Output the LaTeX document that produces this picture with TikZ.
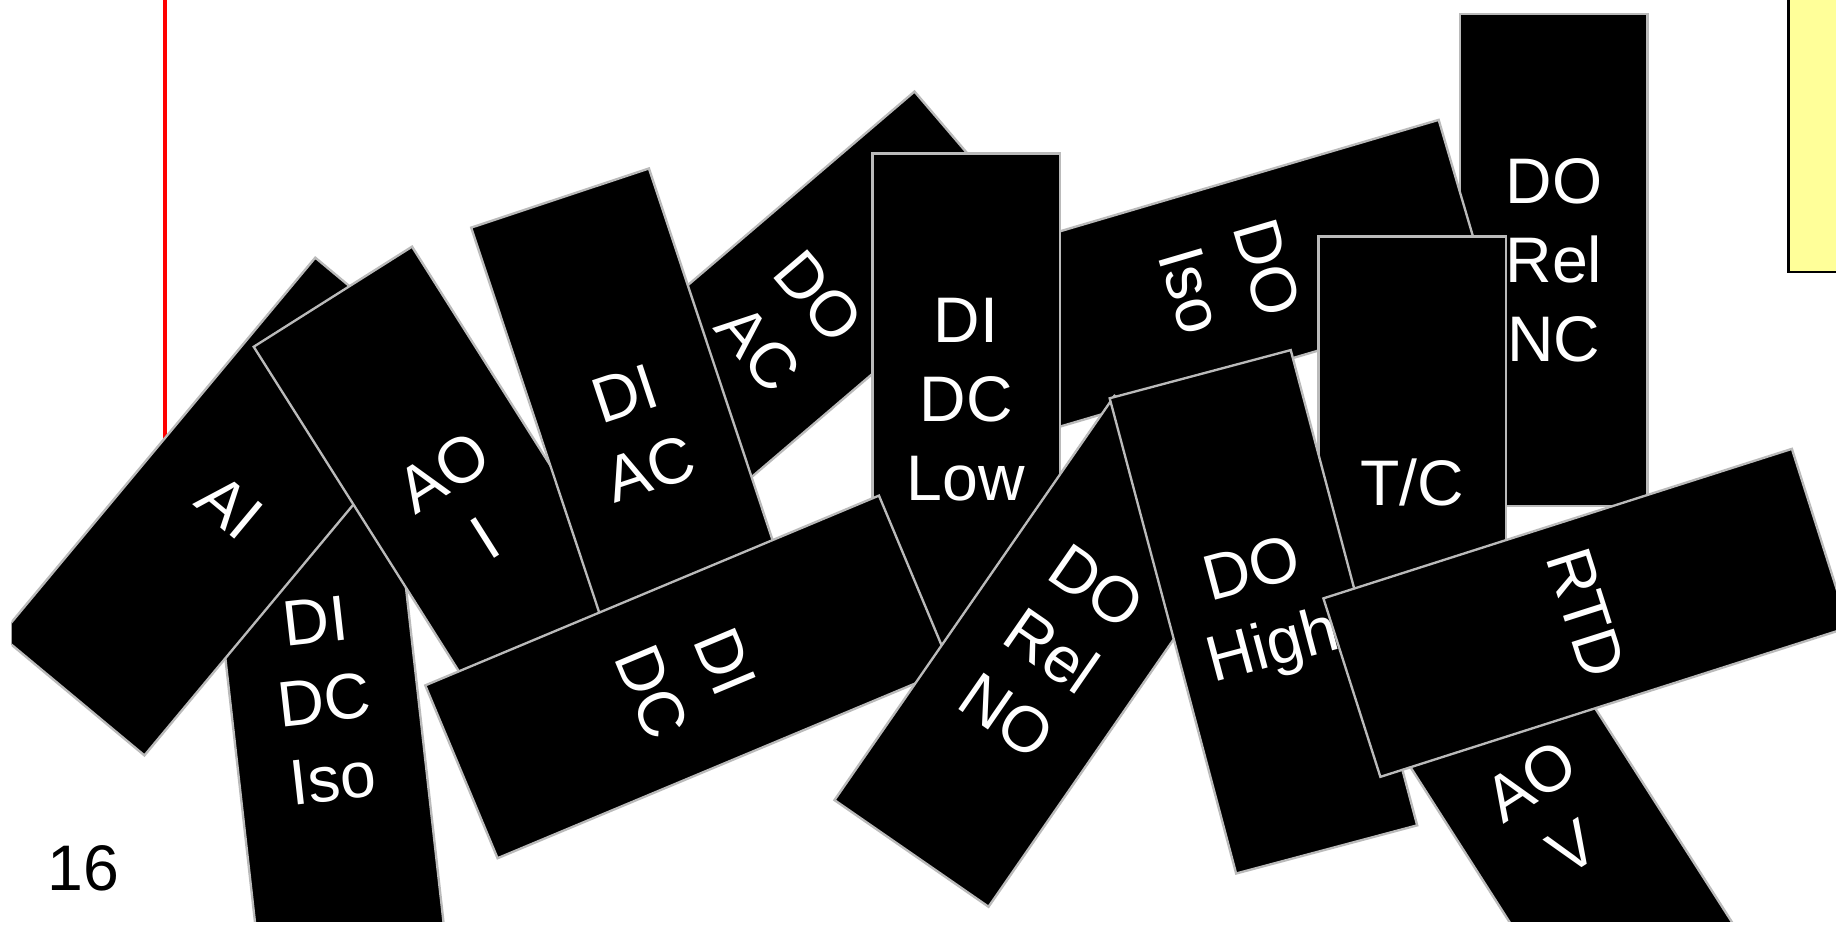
\documentclass[tikz,border=0pt]{standalone}
\usepackage{fontspec}
\setmainfont{Liberation Sans}
\definecolor{notefill}{RGB}{255,255,153}
\begin{document}
\begin{tikzpicture}[x=0.5pt,y=-0.5pt,
  card/.style={draw=black!27,line width=1pt,fill=black,text=white,align=center,
    minimum width=80pt,minimum height=210pt,inner sep=0pt,outer sep=0pt,
    font=\fontsize{27.5}{33.75}\selectfont}]
\useasboundingbox (0,0) rectangle (1568,790);
\fill[white] (0,0) rectangle (1568,790);
\begin{scope}
\clip (10,0) rectangle (1568,787);
\draw[red,line width=1.7pt] (141,-5) -- (141,420);
\filldraw[fill=notefill,draw=black,line width=1pt] (1527.5,-10) rectangle (1580,232.5);
\node (didciso) [card,rotate=6.4] at (277,598) {DI\\DC\\Iso};
\node (ai) [card,rotate=-39.8] at (196.3,432.6) {AI};
\node (aoi) [card,rotate=32.3] at (396.5,430.9) {AO\\I};
\node (doac) [card,rotate=-49.5] at (673.3,275.4) {DO\\AC};
\node (diac) [card,rotate=18.4] at (544.6,368.4) {DI\\AC};
\node (dorelnc) [card] at (1327,222) {DO\\Rel\\NC};
\node (doiso) [card,rotate=-73.6] at (1049.8,238.4) {DO\\Iso};
\node (didclow) [card] at (825,341) {DI\\DC\\Low};
\node (tc) [card] at (1206,412) {T/C};
\node (didc) [card,rotate=-67.3] at (587.8,578.1) {DI\\DC};
\node (dorelno) [card,rotate=-34.7] at (898,556.2) {DO\\Rel\\NO};
\node (aov) [card,rotate=32.6] at (1325,695) {AO\\V};
\node (dohigh) [card,rotate=14.9] at (1079,522.5) {DO\\High};
\node (rtd) [card,rotate=-72.3] at (1354.6,523.4) {RTD};
\end{scope}
\node (page) [font=\fontsize{27.5}{33.75}\selectfont] at (71,742) {16};
\end{tikzpicture}
\end{document}
